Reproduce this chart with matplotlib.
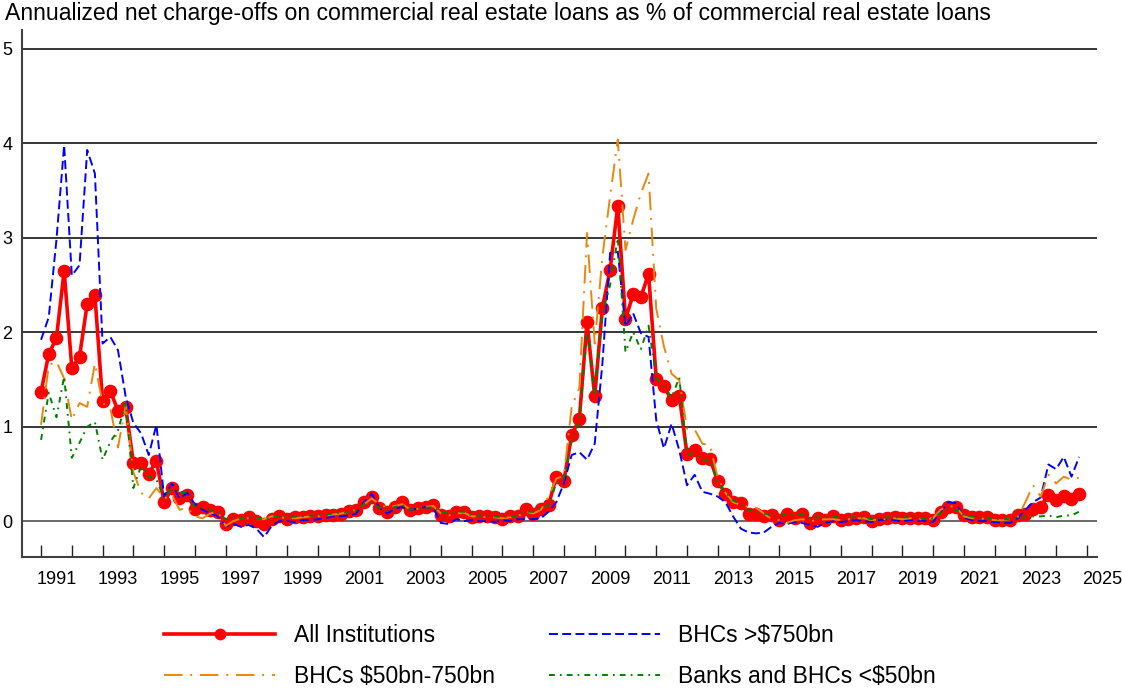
import numpy as np
import pandas as pd
import matplotlib
matplotlib.use("Agg")
import matplotlib.pyplot as plt
from matplotlib.ticker import FixedLocator, NullFormatter, FixedFormatter

plt.rcParams['font.family'] = ['Liberation Sans', 'DejaVu Sans']

title = "Annualized net charge-offs on commercial real estate loans as % of commercial real estate loans"

quarters = pd.period_range('1991Q1', '2024Q4', freq='Q')

# quarterly values, one row of four per year (1991 ... 2024)
all_inst = [
    1.37, 1.77, 1.94, 2.65,
    1.62, 1.74, 2.30, 2.39,
    1.27, 1.38, 1.17, 1.21,
    0.62, 0.62, 0.50, 0.64,
    0.20, 0.35, 0.25, 0.28,
    0.13, 0.15, 0.12, 0.10,
    -0.03, 0.02, 0.01, 0.04,
    0.00, -0.03, 0.02, 0.05,
    0.02, 0.04, 0.04, 0.05,
    0.05, 0.07, 0.07, 0.08,
    0.11, 0.12, 0.20, 0.26,
    0.14, 0.10, 0.15, 0.20,
    0.12, 0.14, 0.15, 0.17,
    0.07, 0.05, 0.10, 0.10,
    0.04, 0.05, 0.05, 0.04,
    0.02, 0.05, 0.05, 0.13,
    0.08, 0.13, 0.17, 0.47,
    0.43, 0.91, 1.08, 2.11,
    1.32, 2.26, 2.66, 3.34,
    2.14, 2.40, 2.37, 2.62,
    1.51, 1.43, 1.28, 1.33,
    0.71, 0.75, 0.67, 0.66,
    0.42, 0.29, 0.20, 0.19,
    0.08, 0.08, 0.05, 0.06,
    0.01, 0.08, 0.03, 0.08,
    -0.02, 0.03, 0.01, 0.05,
    0.01, 0.02, 0.03, 0.04,
    0.00, 0.02, 0.03, 0.04,
    0.03, 0.03, 0.03, 0.03,
    0.01, 0.10, 0.15, 0.15,
    0.06, 0.04, 0.04, 0.04,
    0.01, 0.01, 0.01, 0.06,
    0.08, 0.13, 0.15, 0.28,
    0.22, 0.27, 0.23, 0.29,
]

bhc_large = [
    1.92, 2.16, 2.98, 3.98,
    2.60, 2.71, 3.93, 3.68,
    1.88, 1.95, 1.81, 1.32,
    1.04, 0.93, 0.70, 1.02,
    0.26, 0.40, 0.24, 0.30,
    0.18, 0.12, 0.08, 0.05,
    -0.05, -0.03, -0.06, -0.04,
    -0.08, -0.17, -0.05, 0.00,
    0.00, -0.01, 0.01, 0.01,
    0.02, 0.03, 0.05, 0.05,
    0.06, 0.08, 0.20, 0.29,
    0.14, 0.08, 0.13, 0.15,
    0.12, 0.13, 0.15, 0.14,
    -0.02, -0.03, 0.02, 0.00,
    0.01, 0.00, 0.00, -0.01,
    0.01, 0.00, 0.02, 0.02,
    0.02, 0.03, 0.10, 0.20,
    0.40, 0.70, 0.73, 0.65,
    0.82, 1.67, 2.84, 2.85,
    2.06, 2.20, 1.99, 1.95,
    1.07, 0.77, 1.03, 0.75,
    0.38, 0.49, 0.31, 0.29,
    0.26, 0.20, 0.05, -0.08,
    -0.12, -0.13, -0.12, -0.06,
    -0.02, -0.03, -0.01, -0.02,
    -0.04, -0.06, -0.02, 0.00,
    -0.01, 0.00, 0.01, 0.00,
    -0.01, 0.01, 0.02, 0.01,
    0.00, 0.01, 0.00, 0.00,
    -0.01, 0.10, 0.20, 0.19,
    0.04, 0.01, 0.00, 0.00,
    -0.01, -0.02, -0.02, 0.03,
    0.12, 0.20, 0.25, 0.60,
    0.55, 0.68, 0.47, 0.68,
]

bhc_mid = [
    1.02, 1.65, 1.69, 1.51,
    1.07, 1.25, 1.21, 1.67,
    1.25, 1.20, 0.78, 1.22,
    0.52, 0.30, 0.24, 0.35,
    0.24, 0.28, 0.12, 0.14,
    0.05, 0.03, 0.08, 0.10,
    -0.05, 0.00, 0.03, 0.03,
    0.02, 0.02, 0.05, 0.04,
    0.03, 0.03, 0.04, 0.05,
    0.05, 0.06, 0.07, 0.08,
    0.10, 0.12, 0.18, 0.24,
    0.18, 0.14, 0.16, 0.18,
    0.12, 0.13, 0.15, 0.16,
    0.08, 0.06, 0.08, 0.09,
    0.05, 0.05, 0.04, 0.04,
    0.03, 0.04, 0.05, 0.10,
    0.08, 0.12, 0.26, 0.45,
    0.48, 1.21, 1.41, 3.05,
    1.88, 2.80, 3.44, 4.04,
    2.87, 3.19, 3.47, 3.68,
    2.25, 1.85, 1.56, 1.49,
    0.98, 0.97, 0.82, 0.80,
    0.46, 0.30, 0.20, 0.17,
    0.15, 0.14, 0.08, 0.02,
    0.01, -0.02, 0.01, 0.02,
    0.00, 0.01, 0.02, 0.02,
    0.01, 0.02, 0.03, 0.03,
    0.01, 0.02, 0.02, 0.03,
    0.02, 0.03, 0.02, 0.02,
    0.03, 0.12, 0.16, 0.15,
    0.05, 0.03, 0.03, 0.02,
    0.01, 0.01, 0.02, 0.04,
    0.20, 0.38, 0.26, 0.49,
    0.40, 0.47, 0.44, 0.46,
]

banks_small = [
    0.86, 1.36, 1.10, 1.53,
    0.67, 0.83, 1.00, 1.05,
    0.65, 0.84, 0.96, 1.25,
    0.35, 0.58, 0.47, 0.44,
    0.24, 0.35, 0.31, 0.30,
    0.15, 0.14, 0.12, 0.10,
    0.02, 0.04, 0.03, 0.05,
    0.02, 0.02, 0.04, 0.05,
    0.04, 0.05, 0.05, 0.06,
    0.06, 0.07, 0.08, 0.09,
    0.10, 0.12, 0.18, 0.20,
    0.14, 0.12, 0.15, 0.17,
    0.12, 0.13, 0.14, 0.15,
    0.10, 0.08, 0.10, 0.10,
    0.06, 0.06, 0.06, 0.05,
    0.04, 0.05, 0.06, 0.10,
    0.10, 0.14, 0.17, 0.40,
    0.45, 0.85, 1.05, 2.00,
    1.35, 2.20, 2.50, 3.00,
    1.79, 2.00, 1.82, 2.07,
    1.52, 1.42, 1.31, 1.52,
    0.71, 0.72, 0.65, 0.65,
    0.42, 0.30, 0.22, 0.18,
    0.12, 0.10, 0.08, 0.07,
    0.05, 0.08, 0.06, 0.07,
    0.03, 0.04, 0.04, 0.05,
    0.03, 0.04, 0.04, 0.04,
    0.02, 0.03, 0.04, 0.04,
    0.04, 0.04, 0.04, 0.03,
    0.03, 0.09, 0.13, 0.12,
    0.06, 0.05, 0.04, 0.04,
    0.02, 0.02, 0.02, 0.03,
    0.04, 0.05, 0.05, 0.06,
    0.04, 0.06, 0.06, 0.10,
]

labels = ["All Institutions", "BHCs >$750bn", "BHCs $50bn-750bn", "Banks and BHCs <$50bn"]
year_ticks = list(range(1991, 2026))
label_years = list(range(1991, 2026, 2))
y_ticks = [0, 1, 2, 3, 4, 5]

# decimal year for each quarter
t = quarters.year + (quarters.quarter - 1) / 4.0

fig = plt.figure(figsize=(11.22, 6.89), dpi=100)
ax = fig.add_axes([22 / 1122, 1 - 557 / 689, (1097 - 22) / 1122, (557 - 30) / 689])

l_all, = ax.plot(t, all_inst, color='#ff0000', lw=2.6, marker='o', ms=8.8, zorder=3)
l_big, = ax.plot(t, bhc_large, color='#0000ff', lw=1.4, dashes=(4.6, 2.2), zorder=4)
l_mid, = ax.plot(t, bhc_mid, color='#e8870e', lw=1.4, dashes=(9.5, 4, 1, 4), zorder=4)
l_small, = ax.plot(t, banks_small, color='#008000', lw=1.4, dashes=(3, 2.6, 0.9, 2.6), zorder=4)

xmin, xmax = 1990.38, 2025.33
ax.set_xlim(xmin, xmax)
ax.set_ylim(-0.38, 5.2)

for v in y_ticks:
    ax.axhline(v, color='#404040' if v == 0 else 'black', lw=1.1, zorder=1)

ax.set_yticks(y_ticks)
ax.tick_params(axis='y', length=0, pad=7, labelsize=13)

ax.xaxis.set_major_locator(FixedLocator(year_ticks))
ax.xaxis.set_major_formatter(NullFormatter())
shown = [y for y in label_years if y + 0.5 <= xmax]
ax.xaxis.set_minor_locator(FixedLocator([y + 0.5 for y in shown]))
ax.xaxis.set_minor_formatter(FixedFormatter([str(y) for y in shown]))
ax.tick_params(axis='x', which='major', direction='in', length=9, width=1, color='#222222')
ax.tick_params(axis='x', which='minor', length=0, pad=10, labelsize=13)
# the last label sits past the axis end, so it is placed by hand
for y in label_years:
    if y + 0.5 > xmax:
        ax.text(y + 0.5, -14 / 527, str(y), transform=ax.get_xaxis_transform(),
                ha='center', va='top', fontsize=13, clip_on=False)

for s in ['top', 'right']:
    ax.spines[s].set_visible(False)
for s in ['left', 'bottom']:
    ax.spines[s].set_color('#404040')
    ax.spines[s].set_linewidth(1.5)

fig.text(5 / 1122, 1 - 20 / 689, title, fontsize=16.6, ha='left', va='baseline')

fig.legend([l_all, l_mid, l_big, l_small],
           [labels[0], labels[2], labels[1], labels[3]],
           ncol=2, frameon=False, fontsize=16.5, loc='center',
           bbox_to_anchor=(550 / 1122, 1 - 656 / 689),
           handlelength=4.85, handletextpad=0.8, columnspacing=2.36,
           labelspacing=0.8, markerscale=0.85)

fig.savefig('out.png', dpi=100)
